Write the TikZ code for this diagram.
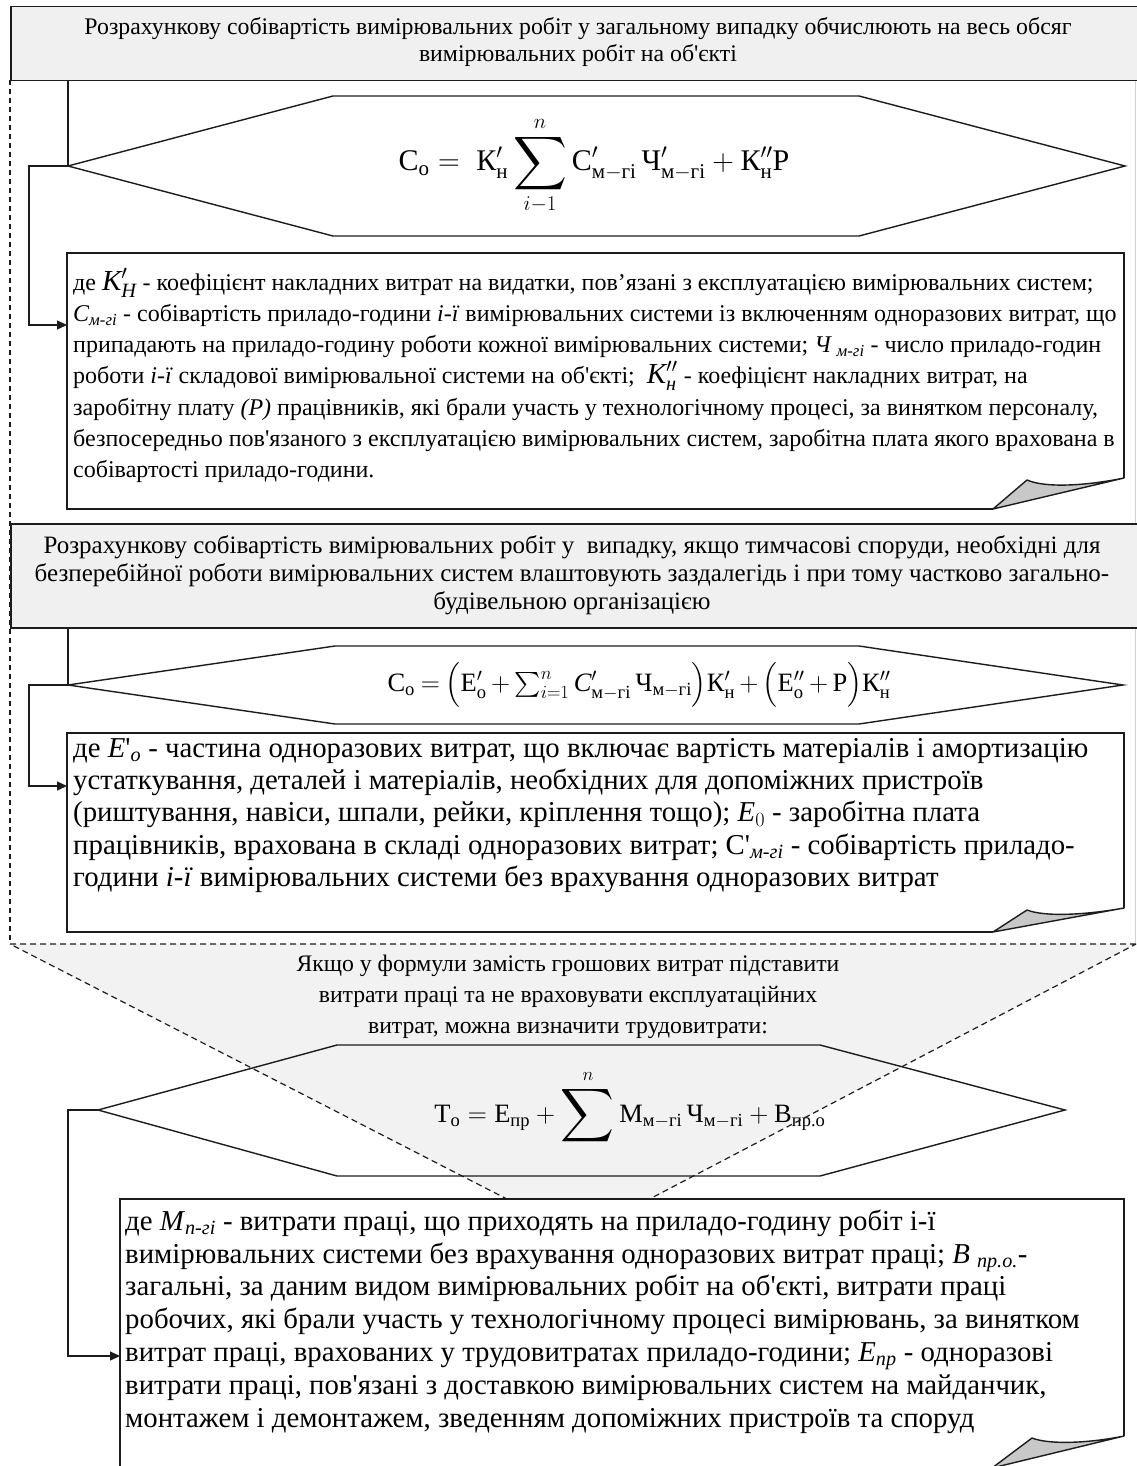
\documentclass[tikz,border=0pt]{standalone}
\usepackage{fix-cm}
\usepackage{amsmath}
\usepackage{graphicx}
\usepackage{fontspec}
\setmainfont{Liberation Serif}[Ligatures=TeXOff]
\usetikzlibrary{arrows.meta}
\definecolor{hdrgray}{RGB}{240,240,240}
\definecolor{trigray}{RGB}{242,242,242}
\definecolor{foldgray}{RGB}{200,200,200}
\definecolor{ink}{RGB}{28,28,28}
\definecolor{edgegray}{RGB}{210,210,210}
\newcommand{\cy}[1]{\text{\normalfont #1}}
\newcommand{\cyi}[1]{\text{\normalfont\itshape #1}}
\newcommand{\bigsym}{\fontsize{29}{29}\selectfont}
\newcommand{\hugesum}{\mathop{\vcenter{\hbox{\scalebox{1.5}{$\displaystyle\sum$}}}}\limits}
\begin{document}
\begin{tikzpicture}[x=1pt,y=-1pt,
  hdrbox/.style={draw=ink,line width=1.5pt,fill=hdrgray,inner sep=0pt,anchor=north west},
  shapeline/.style={draw=ink,line width=1.4pt,line join=miter},
  notebox/.style={draw=ink,line width=1.4pt,fill=white},
  foldpart/.style={draw=ink,line width=1.4pt,fill=foldgray,line join=round},
  frameline/.style={draw=ink,line width=1.2pt,dash pattern=on 5pt off 4pt},
  tridash/.style={draw=ink,line width=1.2pt,dash pattern=on 6pt off 4pt},
  link/.style={draw=ink,line width=1.3pt},
  linkarrow/.style={link,-{Triangle[length=10pt,width=9pt]}},
  hdrtextA/.style={font=\fontsize{23.8}{27}\selectfont,align=center,inner sep=0pt},
  hdrtextB/.style={font=\fontsize{25}{28}\selectfont,align=center,inner sep=0pt},
  tritext/.style={font=\fontsize{23.7}{31}\selectfont,align=center,inner sep=0pt},
  formula/.style={font=\fontsize{30}{36}\selectfont,inner sep=0pt},
  smalltext/.style={font=\fontsize{24}{31.2}\selectfont,align=left,inner sep=0pt,anchor=north west},
  bigtextA/.style={font=\fontsize{28.8}{32.3}\selectfont,align=left,inner sep=0pt,anchor=north west},
  bigtextB/.style={font=\fontsize{28.8}{32.8}\selectfont,align=left,inner sep=0pt,anchor=north west},
]
\useasboundingbox (0,0) rectangle (1136,1466);
\fill[white] (0,0) rectangle (1136,1466);

% named connection points
\coordinate (h1foot) at (68,80);
\coordinate (hex1w) at (68,166);
\coordinate (n1in) at (67,325);
\coordinate (h2foot) at (68,627);
\coordinate (hex2w) at (68,685);
\coordinate (n2in) at (67,786);
\coordinate (hex3w) at (98,1110);
\coordinate (n3in) at (120,1356);

% dashed frame of the first two sections
\draw[frameline] (10,80) -- (10,944);
\draw[edgegray,line width=1pt] (1135.5,80) -- (1135.5,944);

% triangle background
\fill[trigray] (10,944) -- (1136,944) -- (579,1236) -- cycle;

% ---------- section 1 ----------
\node[hdrbox,minimum width=1130pt,minimum height=74pt] (hdr1) at (10,6) {};
\node[hdrtextA] (hdr1t) at (578,42) {Розрахункову собівартість вимірювальних робіт у загальному випадку обчислюють на весь обсяг\\вимірювальних робіт на об'єкті};

\draw[shapeline] (hex1w) -- (333,96) -- (859,96) -- (1125,166) -- (859,236) -- (333,236) -- cycle;
\node[formula] (f1) at (594,166) {$\displaystyle \cy{С}_{\cy{о}} =\; \cy{К}^{\prime}_{\cy{н}}\hugesum_{i-1}^{n}\cy{С}^{\prime}_{\cy{м}-\cy{гі}}\,\cy{Ч}^{\prime}_{\cy{м}-\cy{гі}} + \cy{К}^{\prime\prime}_{\cy{н}}\cy{Р}$};

\draw[link] (h1foot) -- (hex1w);
\draw[linkarrow] (hex1w) -- ++(-39,0) |- (n1in);

\draw[notebox] (993,509) -- (67,509) -- (67,253) -- (1124,253) -- (1124,478);
\draw[foldpart] (993,509) -- (1027,480) .. controls (1045,488) and (1085,486) .. (1124,478) -- cycle;
\node[smalltext] (n1t) at (73,264) {\rule{0pt}{26pt}де {\bigsym$\textit{K}^{\prime}_{\textit{H}}$} - коефіцієнт накладних витрат на видатки, пов’язані з експлуатацією вимірювальних систем;\\
$\textit{C}_{\textit{м-гі}}$ - собівартість приладо-години \textit{і-ї} вимірювальних системи із включенням одноразових витрат, що\\
припадають на приладо-годину роботи кожної вимірювальних системи; \textit{Ч}$_{\;\textit{м-гі}}$ - число приладо-годин\\
роботи \textit{і-ї} складової вимірювальної системи на об'єкті;\ \ {\bigsym$\textit{K}^{\prime\prime}_{\textit{н}}$} - коефіцієнт накладних витрат, на\\
заробітну плату \textit{(Р)} працівників, які брали участь у технологічному процесі, за винятком персоналу,\\
безпосередньо пов'язаного з експлуатацією вимірювальних систем, заробітна плата якого врахована в\\
собівартості приладо-години.};

% ---------- section 2 ----------
\node[hdrbox,minimum width=1130pt,minimum height=104pt] (hdr2) at (10,523) {};
\node[hdrtextB] (hdr2t) at (572,575) {Розрахункову собівартість вимірювальних робіт у\ \ випадку, якщо тимчасові споруди, необхідні для\\безперебійної роботи вимірювальних систем влаштовують заздалегідь і при тому частково загально-\\будівельною організацією};

\draw[shapeline] (hex2w) -- (335,646) -- (859,646) -- (1123,685) -- (859,724) -- (335,724) -- cycle;
\node[formula,font=\fontsize{26.5}{32}\selectfont] (f2) at (639,685) {$\medmuskip=3mu\thickmuskip=4mu\cy{С}_{\cy{о}} = \Bigl(\cy{Е}^{\prime}_{\cy{о}} + \sum_{i=1}^{n}\cyi{C}^{\prime}_{\cy{м}-\cy{гі}}\,\cy{Ч}_{\cy{м}-\cy{гі}}\Bigr)\cy{К}^{\prime}_{\cy{н}} + \Bigl(\cy{Е}^{\prime\prime}_{\cy{о}} + \cy{Р}\Bigr)\cy{К}^{\prime\prime}_{\cy{н}}$};

\draw[link] (h2foot) -- (hex2w);
\draw[linkarrow] (hex2w) -- ++(-39,0) |- (n2in);

\draw[notebox] (993,932) -- (67,932) -- (67,733) -- (1124,733) -- (1124,908);
\draw[foldpart] (993,932) -- (1027,910) .. controls (1045,917) and (1085,915) .. (1124,908) -- cycle;
\node[bigtextA] (n2t) at (73,732) {\rule{0pt}{25pt}де \textit{E}'$_{\textit{o}}$ - частина одноразових витрат, що включає вартість матеріалів і амортизацію\\
устаткування, деталей і матеріалів, необхідних для допоміжних пристроїв\\
(риштування, навіси, шпали, рейки, кріплення тощо); \textit{E}$_{0}$ - заробітна плата\\
працівників, врахована в складі одноразових витрат; С'$_{\textit{м-гі}}$ - собівартість приладо-\\
години \textit{і-ї} вимірювальних системи без врахування одноразових витрат};

% ---------- section 3 ----------
\node[tritext] (trit) at (568,997) {Якщо у формули замість грошових витрат підставити\\витрати праці та не враховувати експлуатаційних\\витрат, можна визначити трудовитрати:};

\draw[shapeline] (hex3w) -- (337,1045) -- (820,1045) -- (1065,1110) -- (820,1176) -- (337,1176) -- cycle;
\node[formula,font=\fontsize{26.5}{32}\selectfont] (f3) at (630,1108) {$\displaystyle \cy{Т}_{\cy{о}} = \cy{Е}_{\cy{пр}} + \hugesum^{n}\cy{М}_{\cy{м}-\cy{гі}}\,\cy{Ч}_{\cy{м}-\cy{гі}} + \cy{В}_{\cy{пр.о}}$};

\draw[tridash] (1136,944) -- (10,944) -- (579,1236) -- (1136,944);

\draw[linkarrow] (hex3w) -- ++(-30,0) |- (n3in);

\draw[notebox] (992,1468) -- (120,1468) -- (120,1199) -- (1124,1199) -- (1124,1436);
\draw[foldpart] (992,1468) -- (1032,1438) .. controls (1050,1445) and (1090,1443) .. (1124,1436) -- cycle;
\node[bigtextB] (n3t) at (125,1205) {\rule{0pt}{25pt}де \textit{M}$_{\textit{n-гі}}$ - витрати праці, що приходять на приладо-годину робіт і-ї\\
вимірювальних системи без врахування одноразових витрат праці; \textit{B} $_{\textit{пр.о.}}$-\\
загальні, за даним видом вимірювальних робіт на об'єкті, витрати праці\\
робочих, які брали участь у технологічному процесі вимірювань, за винятком\\
витрат праці, врахованих у трудовитратах приладо-години; \textit{E}$_{\textit{пр}}$ - одноразові\\
витрати праці, пов'язані з доставкою вимірювальних систем на майданчик,\\
монтажем і демонтажем, зведенням допоміжних пристроїв та споруд};
\end{tikzpicture}
\end{document}
